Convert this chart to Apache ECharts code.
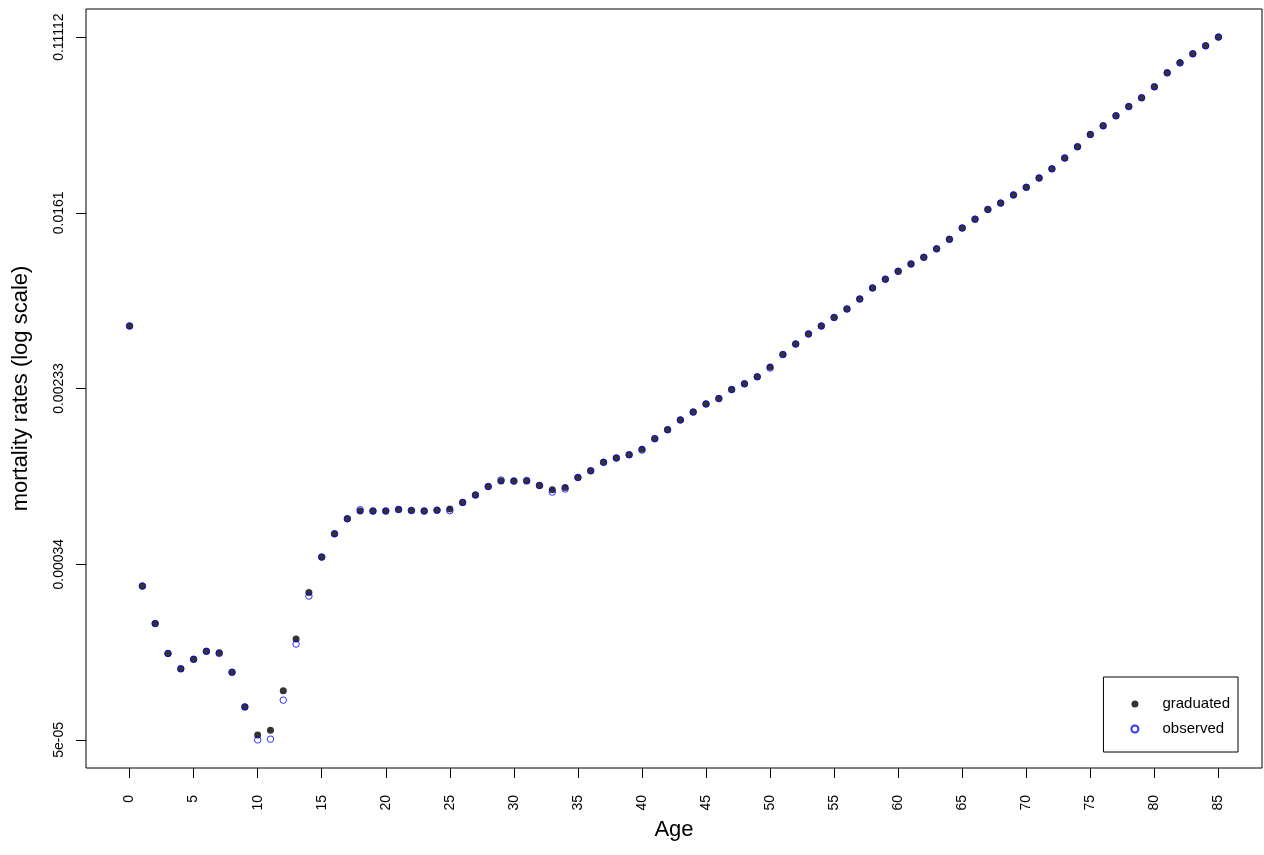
<!DOCTYPE html>
<html>
<head>
<meta charset="utf-8">
<title>mortality rates</title>
<script src="https://cdn.jsdelivr.net/npm/echarts@6/dist/echarts.min.js"></script>
<style>
    html, body { margin: 0; padding: 0; background: #ffffff; }
    #mortality-chart-div { width: 1264px; height: 855px; }
</style>
</head>
<body>
<div id="mortality-chart-div"></div>
<script>
// values (log-scale y axis)
const ages = [
    0, 1, 2, 3, 4, 5, 6, 7, 8, 9,
    10, 11, 12, 13, 14, 15, 16, 17, 18, 19,
    20, 21, 22, 23, 24, 25, 26, 27, 28, 29,
    30, 31, 32, 33, 34, 35, 36, 37, 38, 39,
    40, 41, 42, 43, 44, 45, 46, 47, 48, 49,
    50, 51, 52, 53, 54, 55, 56, 57, 58, 59,
    60, 61, 62, 63, 64, 65, 66, 67, 68, 69,
    70, 71, 72, 73, 74, 75, 76, 77, 78, 79,
    80, 81, 82, 83, 84, 85
];
const graduated = [
    0.00468, 0.000270, 0.000179, 0.000129, 0.000109, 0.000121, 0.000132, 0.000130, 0.000105, 0.0000718,
    0.0000528, 0.0000556, 0.0000856, 0.000151, 0.000252, 0.000371, 0.000479, 0.000565, 0.000615, 0.000615,
    0.000615, 0.000626, 0.000619, 0.000615, 0.000621, 0.000628, 0.000676, 0.000733, 0.000805, 0.000854,
    0.000854, 0.000854, 0.000814, 0.000777, 0.000796, 0.000889, 0.000956, 0.00105, 0.00110, 0.00114,
    0.00121, 0.00136, 0.00150, 0.00167, 0.00182, 0.00199, 0.00211, 0.00233, 0.00248, 0.00268,
    0.00298, 0.00342, 0.00384, 0.00429, 0.00468, 0.00514, 0.00564, 0.00629, 0.00710, 0.00782,
    0.00852, 0.00924, 0.00993, 0.0109, 0.0121, 0.0137, 0.0151, 0.0168, 0.0180, 0.0197,
    0.0214, 0.0237, 0.0262, 0.0295, 0.0334, 0.0382, 0.0420, 0.0469, 0.0519, 0.0571,
    0.0644, 0.0751, 0.0838, 0.0925, 0.1010, 0.11112
];
const observed = [
    0.00468, 0.000270, 0.000179, 0.000129, 0.000109, 0.000121, 0.000132, 0.000129, 0.000105, 0.0000718,
    0.0000500, 0.0000504, 0.0000773, 0.000143, 0.000242, 0.000371, 0.000479, 0.000565, 0.000624, 0.000615,
    0.000615, 0.000626, 0.000619, 0.000615, 0.000621, 0.000617, 0.000676, 0.000733, 0.000805, 0.000864,
    0.000854, 0.000860, 0.000814, 0.000757, 0.000783, 0.000889, 0.000956, 0.00105, 0.00110, 0.00114,
    0.00120, 0.00136, 0.00150, 0.00167, 0.00182, 0.00199, 0.00211, 0.00233, 0.00248, 0.00268,
    0.00295, 0.00342, 0.00384, 0.00429, 0.00468, 0.00514, 0.00564, 0.00629, 0.00710, 0.00782,
    0.00852, 0.00924, 0.00993, 0.0109, 0.0121, 0.0137, 0.0151, 0.0168, 0.0180, 0.0197,
    0.0214, 0.0237, 0.0262, 0.0295, 0.0334, 0.0382, 0.0420, 0.0469, 0.0519, 0.0571,
    0.0644, 0.0751, 0.0838, 0.0925, 0.1010, 0.11112
];
const xTicks = [0, 5, 10, 15, 20, 25, 30, 35, 40, 45, 50, 55, 60, 65, 70, 75, 80, 85];
const yTickLabels = ['5e-05', '0.00034', '0.00233', '0.0161', '0.11112'];

// y axis: ticks are evenly spaced in log between data min and max
var mort_yMin = 5e-5;
var mort_yMax = 0.11112;
var mort_logStep = Math.log(mort_yMax / mort_yMin) / (yTickLabels.length - 1);
function mort_toAxis(v) {
    return Math.log(v / mort_yMin) / mort_logStep;
}
var mort_yTickPos = yTickLabels.map(function (s, i) { return i; });

var mort_font = '"Liberation Sans", Arial, sans-serif';

var mort_chartDom = document.getElementById('mortality-chart-div');
var mort_myChart = echarts.init(mort_chartDom, null, { renderer: 'canvas' });
var mort_option;

mort_option = {
    animation: false,
    backgroundColor: '#ffffff',
    grid: {
        left: 86,
        right: 2,
        top: 9,
        bottom: 87,
        show: true,
        borderColor: '#000000',
        borderWidth: 1,
        containLabel: false
    },
    legend: {
        orient: 'vertical',
        right: 26,
        top: 677,
        padding: [19, 8, 15, 27],
        itemGap: 9,
        itemWidth: 7,
        itemHeight: 7,
        backgroundColor: '#ffffff',
        borderColor: '#000000',
        borderWidth: 1,
        borderRadius: 0,
        selectedMode: false,
        textStyle: {
            fontFamily: mort_font,
            fontSize: 15,
            lineHeight: 16,
            color: '#000000',
            padding: [0, 0, 0, 19]
        },
        data: ['graduated', 'observed']
    },
    xAxis: {
        type: 'value',
        position: 'bottom',
        min: -3.4,
        max: 88.4,
        name: 'Age',
        nameLocation: 'middle',
        nameGap: 50,
        nameTextStyle: { fontFamily: mort_font, fontSize: 22, color: '#000000' },
        axisLine: { show: false, onZero: false },
        splitLine: { show: false },
        axisTick: {
            show: true,
            inside: false,
            length: 10,
            customValues: xTicks,
            lineStyle: { color: '#000000', width: 1 }
        },
        axisLabel: {
            show: true,
            rotate: 90,
            margin: 27,
            customValues: xTicks,
            fontFamily: mort_font,
            fontSize: 14,
            color: '#000000'
        }
    },
    yAxis: {
        type: 'value',
        position: 'left',
        min: -0.16,
        max: 4.16,
        name: 'mortality rates (log scale)',
        nameLocation: 'middle',
        nameGap: 54,
        nameTextStyle: { fontFamily: mort_font, fontSize: 22, color: '#000000' },
        axisLine: { show: false, onZero: false },
        splitLine: { show: false },
        axisTick: {
            show: true,
            inside: false,
            length: 10,
            customValues: mort_yTickPos,
            lineStyle: { color: '#000000', width: 1 }
        },
        axisLabel: {
            show: true,
            rotate: 90,
            margin: 20,
            customValues: mort_yTickPos,
            fontFamily: mort_font,
            fontSize: 14,
            color: '#000000',
            formatter: function (v) {
                return yTickLabels[Math.round(v)];
            }
        }
    },
    series: [
        {
            name: 'graduated',
            type: 'scatter',
            symbol: 'circle',
            symbolSize: 7,
            itemStyle: { color: '#000000' },
            data: ages.map(function (a, i) { return [a, mort_toAxis(graduated[i])]; })
        },
        {
            name: 'observed',
            type: 'scatter',
            symbol: 'circle',
            symbolSize: 6.5,
            itemStyle: {
                color: 'rgba(0,0,0,0)',
                borderColor: '#0000ff',
                borderWidth: 1
            },
            data: ages.map(function (a, i) { return [a, mort_toAxis(observed[i])]; })
        }
    ]
};

if (mort_option && typeof mort_option === 'object') {
    mort_myChart.setOption(mort_option);
}
</script>
</body>
</html>
